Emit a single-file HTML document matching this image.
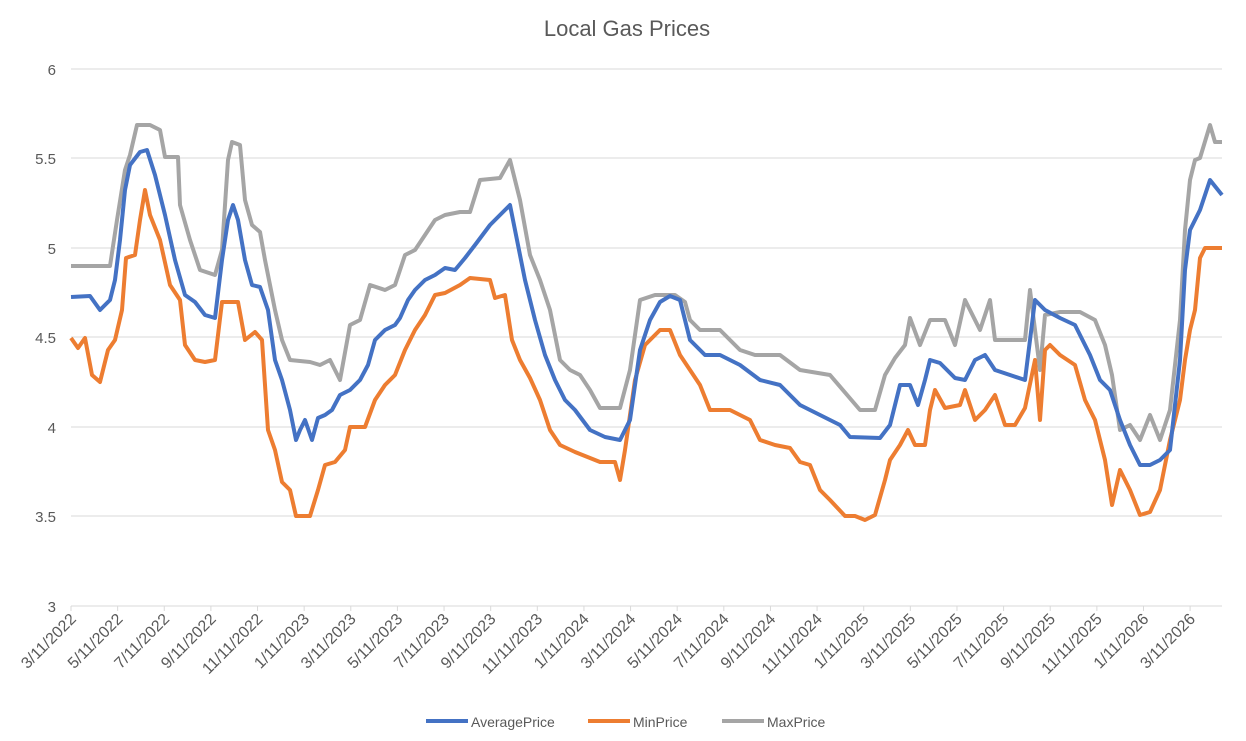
<!DOCTYPE html>
<html><head><meta charset="utf-8"><style>
body{margin:0;background:#fff}
svg{display:block;font-family:"Liberation Sans",sans-serif}
</style></head><body>
<svg width="1246" height="741" viewBox="0 0 1246 741">
<text x="627" y="36" text-anchor="middle" font-size="22" fill="#595959">Local Gas Prices</text>
<g stroke="#d9d9d9" stroke-width="1">
<line x1="71" y1="69" x2="1222" y2="69"/><line x1="71" y1="158" x2="1222" y2="158"/>
<line x1="71" y1="248" x2="1222" y2="248"/><line x1="71" y1="337" x2="1222" y2="337"/>
<line x1="71" y1="427" x2="1222" y2="427"/><line x1="71" y1="516" x2="1222" y2="516"/>
<line x1="71" y1="606" x2="1222" y2="606"/>
</g>
<g font-size="15" fill="#595959" text-anchor="end">
<text x="56" y="75">6</text><text x="56" y="164">5.5</text><text x="56" y="254">5</text>
<text x="56" y="343">4.5</text><text x="56" y="433">4</text><text x="56" y="522">3.5</text><text x="56" y="612">3</text>
</g>
<g id="ticks" stroke="#d9d9d9"></g>
<g id="labels" font-size="16" fill="#595959" text-anchor="end"></g>
<g fill="none" stroke-width="4" stroke-linejoin="round">
<polyline stroke="#a5a5a5" points="71,266 110,266 117,220 125,170 130,155 137,125 150,125 160,130 165,157 178,157 180,205 190,240 200,270 215,275 222,250 228,160 232,142 240,145 245,200 252,225 260,232 265,260 275,310 282,340 290,360 310,362 320,365 330,360 340,380 350,325 360,320 370,285 385,290 395,285 405,255 415,250 425,235 435,220 445,215 460,212 470,212 480,180 500,178 510,160 520,200 530,255 540,280 550,310 560,360 570,370 580,375 590,390 600,408 620,408 630,370 640,300 655,295 675,295 685,302 690,320 700,330 720,330 740,350 755,355 780,355 800,370 830,375 860,410 875,410 885,375 895,358 905,345 910,318 920,345 930,320 945,320 955,345 965,300 980,330 990,300 995,340 1025,340 1030,290 1040,370 1045,315 1060,312 1080,312 1095,320 1105,345 1112,375 1120,430 1130,425 1140,440 1150,415 1160,440 1170,410 1180,320 1185,230 1190,180 1195,160 1200,158 1210,125 1215,142 1222,142"/>
<polyline stroke="#ed7d31" points="71,338 78,348 85,338 92,375 100,382 108,350 115,340 122,310 126,258 135,255 140,220 145,190 150,215 160,240 170,285 180,300 185,345 195,360 205,362 215,360 222,302 238,302 245,340 255,332 262,340 268,430 275,450 282,482 290,490 296,516 310,516 318,490 325,465 335,462 345,450 350,427 365,427 375,400 385,385 395,375 405,350 415,330 425,315 435,295 445,293 460,285 470,278 490,280 495,298 505,295 512,340 520,360 530,378 540,400 550,430 560,445 575,452 590,458 600,462 615,462 620,480 625,450 635,380 645,345 660,330 670,330 680,355 700,385 710,410 730,410 750,420 760,440 775,445 790,448 800,462 810,465 820,490 830,500 845,516 855,516 865,520 875,515 885,480 890,460 900,445 908,430 915,445 925,445 930,410 935,390 945,408 960,405 965,390 975,420 985,410 995,395 1005,425 1015,425 1025,408 1035,360 1040,420 1045,350 1050,345 1060,355 1075,365 1085,400 1095,420 1105,460 1112,505 1120,470 1130,490 1140,515 1150,512 1160,490 1170,440 1180,400 1185,360 1190,330 1195,310 1200,258 1205,248 1222,248"/>
<polyline stroke="#4472c4" points="71,297 90,296 100,310 110,300 115,280 120,240 125,190 130,165 140,152 147,150 155,175 165,215 175,260 185,295 195,302 205,315 215,318 222,260 228,220 233,205 238,220 245,260 252,285 260,287 268,310 275,360 282,380 290,410 296,440 300,430 305,420 312,440 318,418 325,415 332,410 340,395 350,390 360,380 368,365 375,340 385,330 395,325 400,318 408,300 415,290 425,280 435,275 445,268 455,270 465,258 475,245 490,225 505,210 510,205 515,230 525,280 535,320 545,355 555,380 565,400 575,410 590,430 605,437 620,440 630,420 640,350 650,320 660,302 670,296 680,300 690,340 705,355 720,355 740,365 760,380 780,385 800,405 820,415 840,425 850,437 880,438 890,425 900,385 910,385 918,405 925,380 930,360 940,363 955,378 965,380 975,360 985,355 995,370 1010,375 1025,380 1035,300 1045,310 1060,318 1075,325 1090,355 1100,380 1110,390 1120,420 1130,445 1140,465 1150,465 1160,460 1170,450 1180,360 1185,270 1190,230 1200,210 1210,180 1222,195"/>
</g>
<g font-size="14" fill="#595959">
<line x1="426" y1="721" x2="468" y2="721" stroke="#4472c4" stroke-width="4"/><text x="471" y="727">AveragePrice</text>
<line x1="588" y1="721" x2="630" y2="721" stroke="#ed7d31" stroke-width="4"/><text x="633" y="727">MinPrice</text>
<line x1="722" y1="721" x2="764" y2="721" stroke="#a5a5a5" stroke-width="4"/><text x="767" y="727">MaxPrice</text>
</g>
</svg>
<script>
var labs=["3/11/2022","5/11/2022","7/11/2022","9/11/2022","11/11/2022","1/11/2023","3/11/2023","5/11/2023","7/11/2023","9/11/2023","11/11/2023","1/11/2024","3/11/2024","5/11/2024","7/11/2024","9/11/2024","11/11/2024","1/11/2025","3/11/2025","5/11/2025","7/11/2025","9/11/2025","11/11/2025","1/11/2026","3/11/2026"];
var t=document.getElementById("ticks"),l=document.getElementById("labels"),ns="http://www.w3.org/2000/svg";
labs.forEach(function(s,i){var x=71+i*46.63;
var ln=document.createElementNS(ns,"line");ln.setAttribute("x1",x);ln.setAttribute("x2",x);ln.setAttribute("y1",606);ln.setAttribute("y2",611);t.appendChild(ln);
var tx=document.createElementNS(ns,"text");tx.setAttribute("transform","translate("+(x+6)+",620) rotate(-45)");tx.textContent=s;l.appendChild(tx);});
</script>
</body></html>
